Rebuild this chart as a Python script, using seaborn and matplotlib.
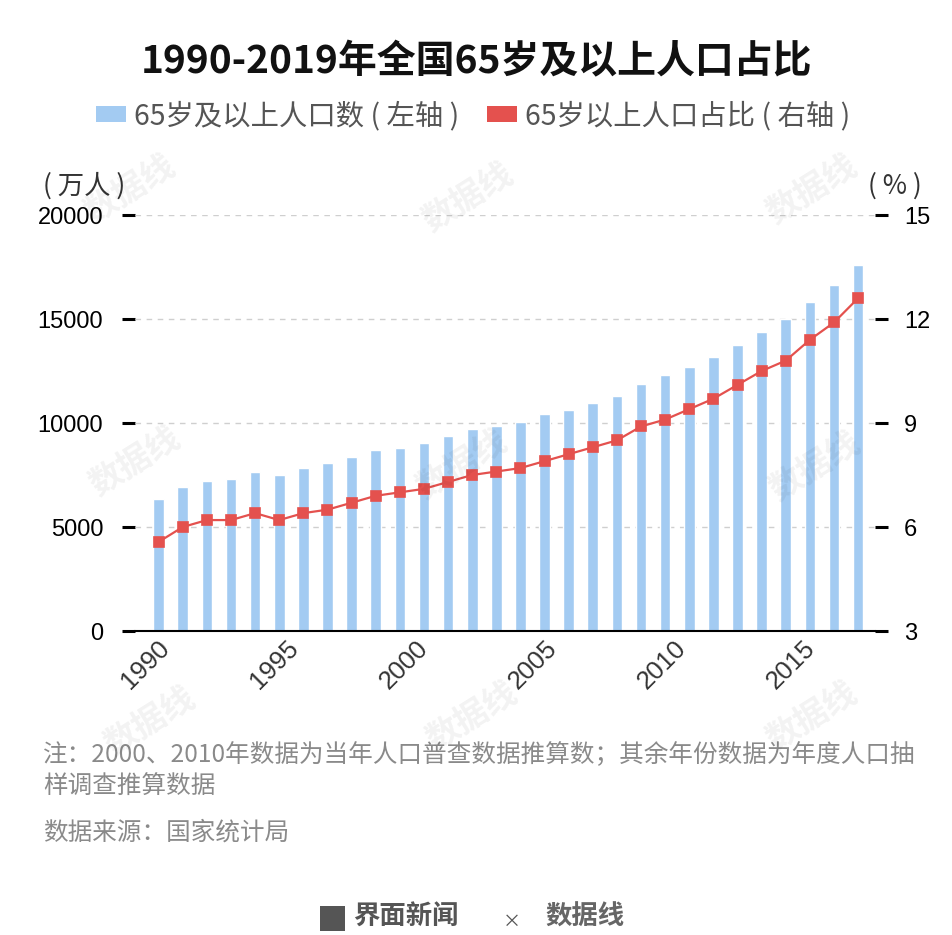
import matplotlib
matplotlib.use("Agg")
import matplotlib.pyplot as plt
import seaborn as sns
import pandas as pd
import numpy as np
from matplotlib.patches import Patch, Rectangle

# ---------------- data ----------------
years = list(range(1990, 2020))
pop_65 = [6368, 6938, 7218, 7289, 7622, 7510, 7833, 8085, 8359, 8679,
          8821, 9062, 9377, 9692, 9857, 10055, 10419, 10636, 10956, 11307,
          11894, 12288, 12714, 13161, 13755, 14386, 15003, 15831, 16658, 17603]
share_65 = [5.57, 6.0, 6.2, 6.2, 6.4, 6.2, 6.4, 6.5, 6.7, 6.9,
            7.0, 7.1, 7.3, 7.5, 7.6, 7.7, 7.9, 8.1, 8.3, 8.5,
            8.9, 9.1, 9.4, 9.7, 10.1, 10.5, 10.8, 11.4, 11.9, 12.6]
left_ticks = [0, 5000, 10000, 15000, 20000]
right_ticks = [3, 6, 9, 12, 15]
xlabel_years = [1990, 1995, 2000, 2005, 2010, 2015]

title = "1990-2019年全国65岁及以上人口占比"
legend_labels = ["65岁及以上人口数 ( 左轴 )", "65岁以上人口占比 ( 右轴 )"]
note_lines = ["注：2000、2010年数据为当年人口普查数据推算数；其余年份数据为年度人口抽",
              "样调查推算数据"]
source = "数据来源：国家统计局"

df = pd.DataFrame({"year": [str(y) for y in years], "pop": pop_65, "share": share_65})

# ---------------- style ----------------
sns.set_style("white")
plt.rcParams["font.family"] = ["Noto Sans CJK SC", "DejaVu Sans"]

BLUE = "#a3cbf2"
RED = "#e4514e"
W, H = 953, 935
fig = plt.figure(figsize=(W / 100, H / 100), dpi=100)

def fx(px):
    return px / W

def fy(py):
    return 1 - py / H

ax = fig.add_axes([fx(135), fy(631), fx(875) - fx(135), fy(215) - fy(631)])
ax2 = ax.twinx()

sns.barplot(data=df, x="year", y="pop", ax=ax, color=BLUE, width=0.44,
            saturation=1, zorder=2)
sns.pointplot(data=df, x="year", y="share", ax=ax2, color=RED, markers="s",
              markersize=6.5, linewidth=1.6, zorder=5)

ax.set_ylim(0, 20000)
ax2.set_ylim(3, 15)
ax.set_xlim(-0.98, 29.7)
ax.set_yticks(left_ticks)
ax.set_yticklabels([str(t) for t in left_ticks])
ax2.set_yticks(right_ticks)
ax2.set_yticklabels([str(t) for t in right_ticks])

# grid
for t in left_ticks[1:]:
    ax.axhline(t, color="#cfcfcf", lw=1.0, ls=(0, (4, 4)), zorder=1)

for a in (ax, ax2):
    for s in a.spines.values():
        s.set_visible(False)
ax.spines["bottom"].set_visible(True)
ax.spines["bottom"].set_color("black")
ax.spines["bottom"].set_linewidth(1.5)
ax.spines["bottom"].set_zorder(6)

numfont = ["Liberation Sans", "DejaVu Sans"]
ax.tick_params(axis="y", length=9.4, width=2.2, color="black", pad=13.5,
               labelsize=17, labelcolor="black")
ax2.tick_params(axis="y", length=9.4, width=2.2, color="black", pad=11.5,
                labelsize=17, labelcolor="black")
for lab in ax.get_yticklabels() + ax2.get_yticklabels():
    lab.set_family(numfont)

# x labels (positions as they appear in the reference)
xpos = [0.3 + (y - 1990) * 1.07 for y in xlabel_years]
ax.set_xticks(xpos)
ax.set_xticklabels([str(y) for y in xlabel_years], rotation=45, ha="right",
                   va="center", rotation_mode="anchor")
ax.tick_params(axis="x", length=0, pad=10, labelsize=18.5, labelcolor="#333333")
for lab in ax.get_xticklabels():
    lab.set_family(numfont)
ax.set_xlabel("")
ax.set_ylabel("")
ax2.set_ylabel("")
ax2.set_xlabel("")

ax.set_zorder(1)
ax2.set_zorder(2)
ax.patch.set_visible(False)
ax2.patch.set_visible(False)

# title
fig.text(0.5, fy(62), title, ha="center", va="center", fontsize=28,
         fontweight="bold", color="#111111")

# legend
handles = [Patch(facecolor=BLUE, edgecolor="none"), Patch(facecolor=RED, edgecolor="none")]
fig.legend(handles, legend_labels, loc="center", bbox_to_anchor=(fx(473), fy(116)),
           ncol=2, frameon=False, fontsize=20.4, labelcolor="#555555",
           handlelength=1.06, handleheight=0.5, handletextpad=0.28,
           columnspacing=0.99, borderaxespad=0, borderpad=0)

# unit labels
fig.text(fx(43), fy(186), "( 万人 )", ha="left", va="center", fontsize=19,
         color="#333333")
fig.text(fx(922), fy(186), "( % )", ha="right", va="center", fontsize=19,
         color="#333333")

# notes
fig.text(fx(43), fy(755), note_lines[0], ha="left", va="center", fontsize=17.7,
         color="#8a8a8a")
fig.text(fx(43), fy(787), note_lines[1], ha="left", va="center", fontsize=17.7,
         color="#8a8a8a")
fig.text(fx(43), fy(833), source, ha="left", va="center", fontsize=17.7,
         color="#8a8a8a")

# watermarks
for (px, py) in [(130, 190), (468, 198), (812, 190), (135, 462), (462, 465),
                 (815, 467), (150, 722), (472, 717), (812, 717)]:
    fig.text(fx(px), fy(py), "数据线", ha="center", va="center", fontsize=24,
             fontweight="bold", color="#000000", alpha=0.05, rotation=32)

# bottom logo
fig.patches.append(Rectangle((fx(320), fy(931)), fx(25), fy(906) - fy(931),
                             transform=fig.transFigure, facecolor="#555555",
                             edgecolor="none"))
fig.text(fx(353), fy(931), "界面新闻", ha="left", va="bottom", fontsize=19,
         fontweight="bold", color="#555555")
fig.text(fx(512), fy(931), "×", ha="center", va="bottom", fontsize=13,
         color="#555555")
fig.text(fx(545), fy(931), "数据线", ha="left", va="bottom", fontsize=19,
         fontweight="bold", color="#666666")

fig.savefig("out.png", dpi=100)
